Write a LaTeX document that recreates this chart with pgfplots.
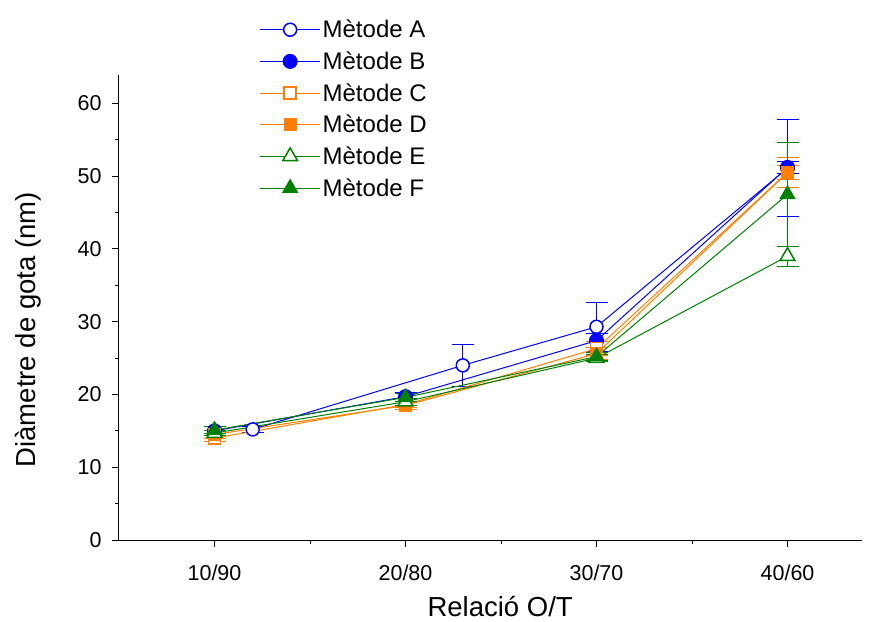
\documentclass[border=0pt]{standalone}
\usepackage{fontspec}
\setmainfont{Liberation Sans}
\usepackage{pgfplots}
\pgfplotsset{compat=1.18}

\definecolor{mblue}{RGB}{0,0,255}
\definecolor{morange}{RGB}{255,128,0}
\definecolor{mgreen}{RGB}{0,128,0}

\begin{document}
\begin{tikzpicture}
\begin{axis}[
  name=ax,
  scale only axis, width=743pt, height=465pt,
  xmin=0.5, xmax=4.39, ymin=0, ymax=63.9,
  axis lines=left,
  axis line style={black, line width=1pt, -},
  xtick={1,2,3,4}, xticklabels={10/90,20/80,30/70,40/60},
  minor xtick={1.5,2.5,3.5},
  ytick={0,10,...,60}, minor ytick={5,15,...,55},
  tick align=outside, major tick length=7pt, minor tick length=4pt,
  tick style={black, line width=1pt},
  every tick label/.append style={font=\fontsize{21.5}{25}\selectfont},
  xticklabel style={yshift=-14pt},
  yticklabel style={xshift=-7pt},
  /pgf/number format/assume math mode=true,
  xlabel={Relació O/T}, ylabel={Diàmetre de gota (nm)},
  label style={font=\fontsize{27.5}{32}\selectfont},
  xlabel style={at={(axis description cs:0.513,-0.144)}, anchor=center},
  ylabel style={at={(axis description cs:-0.1225,0.452)}, anchor=center},
  legend style={at={(axis description cs:0.185,1.127)}, anchor=north west,
    draw=none, fill=none, font=\fontsize{24}{28}\selectfont, row sep=8.5pt},
  legend cell align=left,
  legend image code/.code={\draw[mark repeat=2,mark phase=2]
    plot coordinates {(0pt,0pt)(30pt,0pt)(60pt,0pt)};},
  every axis plot/.append style={line width=1pt},
  error bars/y dir=both, error bars/y explicit,
  error bars/error mark options={rotate=90, mark size=11pt, line width=1pt},
  error bars/error bar style={line width=1pt},
]
% Mètode A
\addplot[mblue, mark=*, mark size=6.5pt, mark options={fill=white, line width=1.5pt}]
  coordinates {(1.2,15.2) +- (0,0.4) (2.3,24.0) +- (0,2.9) (3,29.3) +- (0,3.4) (4,51.1) +- (0,6.7)};
\addlegendentry{Mètode A}
% Mètode B
\addplot[mblue, mark=*, mark size=7pt, mark options={fill=mblue}]
  coordinates {(1,15.0) +- (0,0.6) (2,19.7) +- (0,0.6) (3,27.4) +- (0,1.0) (4,51.2) +- (0,0.8)};
\addlegendentry{Mètode B}
% Mètode C
\addplot[morange, mark=square*, mark size=6pt, mark options={fill=white, line width=1.5pt}]
  coordinates {(1,14.0) +- (0,0.4) (2,18.6) +- (0,0.4) (3,26.3) +- (0,1.0) (4,50.5) +- (0,1.0)};
\addlegendentry{Mètode C}
% Mètode D
\addplot[morange, mark=square*, mark size=6pt, mark options={fill=morange}]
  coordinates {(1,14.5) +- (0,0.6) (2,18.5) +- (0,0.5) (3,25.6) +- (0,0.8) (4,50.5) +- (0,2.1)};
\addlegendentry{Mètode D}
% Mètode E
\addplot[mgreen, mark=triangle*, mark size=8.5pt, mark options={fill=white, line width=1.5pt}]
  coordinates {(1,14.7) +- (0,0.4) (2,19.0) +- (0,0.5) (3,25.0) +- (0,0.5) (4,39.0) +- (0,1.4)};
\addlegendentry{Mètode E}
% Mètode F
\addplot[mgreen, mark=triangle*, mark size=8.5pt, mark options={fill=mgreen}]
  coordinates {(1,15.1) +- (0,0.5) (2,19.6) +- (0,0.6) (3,25.2) +- (0,0.6) (4,47.5) +- (0,7.1)};
\addlegendentry{Mètode F}
\end{axis}
\pgfresetboundingbox
\path (ax.south west) ++(-119pt,-81pt) rectangle ++(875pt,621pt);
\end{tikzpicture}
\end{document}
